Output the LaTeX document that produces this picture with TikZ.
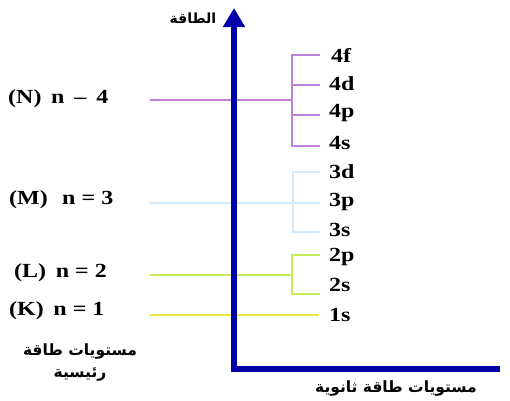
\documentclass[tikz,border=0pt]{standalone}
\usepackage{fontspec}
\setmainfont{Liberation Serif}
\newfontfamily\arabicfont[Script=Arabic]{DejaVu Sans}
\TeXXeTstate=1
\usetikzlibrary{arrows.meta}
\definecolor{levelN}{RGB}{190,130,220}
\definecolor{levelM}{RGB}{212,234,250}
\definecolor{levelL}{RGB}{200,235,90}
\definecolor{levelK}{RGB}{240,230,60}
\definecolor{axisblue}{RGB}{0,0,170}

\begin{document}
\begin{tikzpicture}[x=1pt, y=-1pt, line width=2pt,
  lbl/.style={font=\fontsize{20}{20}\selectfont\bfseries, xscale=1.2, inner sep=0pt, anchor=west},
  ar/.style={font=\arabicfont\fontsize{15.5}{22}\selectfont\bfseries, inner sep=0pt, align=center}]
  \useasboundingbox (0,0) rectangle (510,400);
  \coordinate (O) at (234,369);
  \coordinate (top) at (234,8);
  \coordinate (right) at (500,369);

  % K
  \draw[levelK] (150,315) -- (319,315);
  % L
  \draw[levelL] (150,275) -- (292,275);
  \draw[levelL] (320,255) -- (292,255) -- (292,294) -- (320,294);
  % M
  \draw[levelM] (150,203) -- (320,203);
  \draw[levelM] (320,172) -- (293,172) -- (293,232) -- (320,232);
  % N
  \draw[levelN] (150,100) -- (292,100);
  \draw[levelN] (320,55) -- (292,55) -- (292,146) -- (320,146);
  \draw[levelN] (292,85) -- (320,85);
  \draw[levelN] (292,115) -- (320,115);

  \draw[axisblue, line width=6pt, {Triangle[width=21pt,length=19pt]}-] (top) -- (O) -- (right);

  \node[lbl] (4f) at (330,55) {4f};
  \node[lbl] (4d) at (328,84) {4d};
  \node[lbl] (4p) at (328,113) {4p};
  \node[lbl] (4s) at (328,143) {4s};
  \node[lbl] (3d) at (328,172) {3d};
  \node[lbl] (3p) at (328,202) {3p};
  \node[lbl] (3s) at (328,230) {3s};
  \node[lbl] (2p) at (328,257) {2p};
  \node[lbl] (2s) at (328,285) {2s};
  \node[lbl] (1s) at (328,315) {1s};

  \node[lbl] (N) at (7,99) {(N)\hspace{0.4em}n \,–\, 4};
  \node[lbl] (M) at (8,200) {(M)\hspace{0.6em}n = 3};
  \node[lbl] (L) at (13,273) {(L)\hspace{0.4em}n = 2};
  \node[lbl] (K) at (8,311) {(K)\hspace{0.4em}n = 1};

  \node[ar, font=\arabicfont\fontsize{14}{20}\selectfont\bfseries] (energy) at (193,18) {\beginR الطاقة\endR};
  \node[ar] (main) at (80,362) {\beginR مستويات طاقة\endR\\\beginR رئيسية\endR};
  \node[ar] (sub) at (396,388) {\beginR مستويات طاقة ثانوية\endR};
\end{tikzpicture}
\end{document}
